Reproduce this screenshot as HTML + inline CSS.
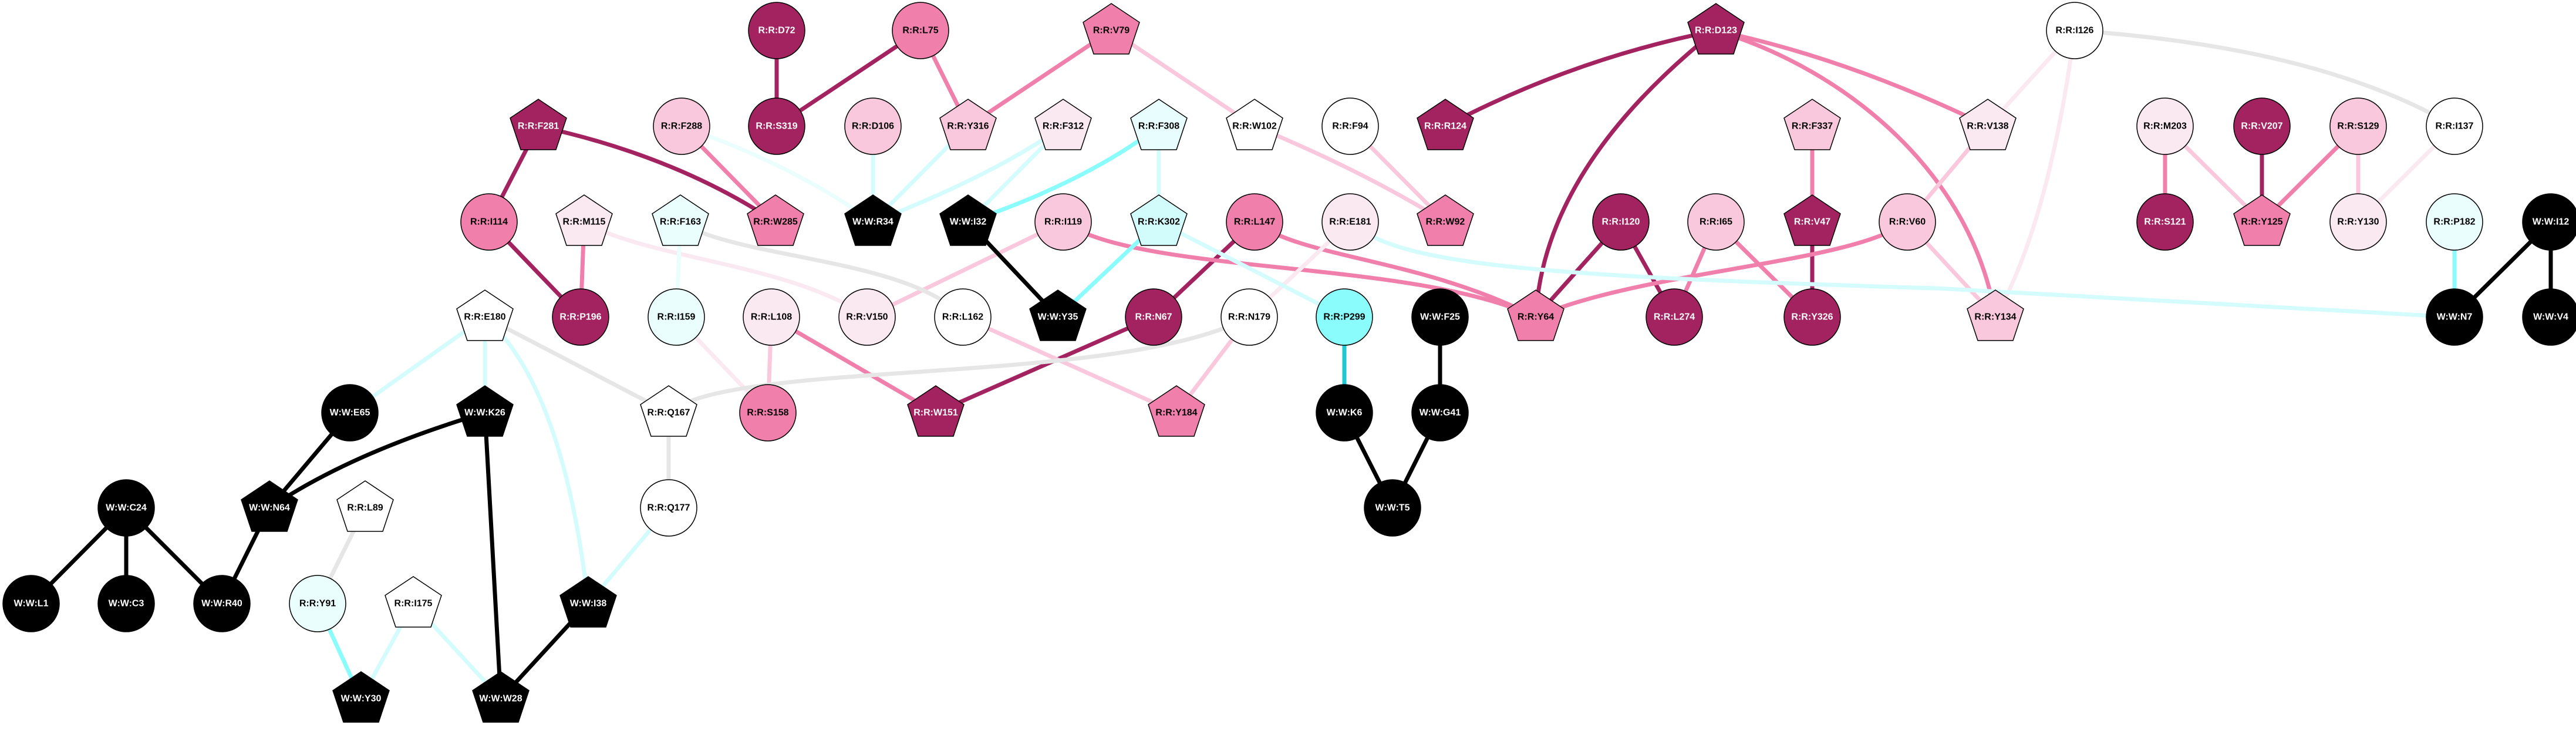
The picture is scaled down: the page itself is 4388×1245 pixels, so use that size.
<!DOCTYPE html>
<html><head><meta charset="utf-8"><style>
html,body{margin:0;padding:0;background:#fff}
svg{display:block}
text{font-family:"Liberation Sans",sans-serif;font-weight:bold;font-size:16px;text-anchor:middle;dominant-baseline:central}
.w{fill:#fff}.k{fill:#000}
</style></head><body>
<svg width="4388" height="1245" viewBox="0 0 4388 1245" xmlns="http://www.w3.org/2000/svg">
<defs><polygon id="p" points="0,-46 48,-14 30,40 -30,40 -48,-14"/></defs>
<rect width="4388" height="1245" fill="#fff"/>
<g fill="none" stroke-width="7" stroke-linecap="round">
<g stroke="#a22360">
<line x1="917" y1="215" x2="833" y2="378"/>
<path d="M917,215 Q1150,265 1321,378"/>
<line x1="833" y1="378" x2="989" y2="540"/>
<line x1="1323" y1="52" x2="1323" y2="215"/>
<line x1="1568" y1="52" x2="1323" y2="215"/>
<line x1="2137" y1="378" x2="1965" y2="540"/>
<line x1="1965" y1="540" x2="1594" y2="703" />
<path d="M2923,52 Q2680,100 2462,215"/>
<path d="M2923,52 Q2630,285 2616,540"/>
<line x1="2761" y1="378" x2="2616" y2="540"/>
<line x1="2761" y1="378" x2="2852" y2="540"/>
<line x1="3087" y1="378" x2="3087" y2="540"/>
<line x1="3853" y1="215" x2="3853" y2="378"/>
</g>
<g stroke="#f07fab">
<line x1="995" y1="378" x2="989" y2="540"/>
<line x1="1568" y1="52" x2="1649" y2="215"/>
<line x1="1893" y1="52" x2="1649" y2="215"/>
<line x1="1161" y1="215" x2="1321" y2="378"/>
<path d="M1811,378 C1950,470 2400,440 2616,540"/>
<path d="M2137,378 C2220,440 2420,440 2616,540"/>
<line x1="1314" y1="540" x2="1594" y2="703"/>
<path d="M2923,52 Q3150,100 3386,215"/>
<path d="M2923,52 C3150,120 3360,300 3399,540"/>
<line x1="2923" y1="378" x2="2852" y2="540"/>
<line x1="2923" y1="378" x2="3087" y2="540"/>
<line x1="3087" y1="215" x2="3087" y2="378"/>
<path d="M3249,378 C3150,450 2800,460 2616,540"/>
<line x1="3688" y1="215" x2="3688" y2="378"/>
<line x1="4017" y1="215" x2="3853" y2="378"/>
</g>
<g stroke="#f9c8dc">
<line x1="1893" y1="52" x2="2137" y2="215"/>
<path d="M2137,215 Q2320,290 2462,378"/>
<line x1="1811" y1="378" x2="1477" y2="540"/>
<line x1="1314" y1="540" x2="1308" y2="703"/>
<line x1="1640" y1="540" x2="2004" y2="703"/>
<line x1="2128" y1="540" x2="2004" y2="703"/>
<line x1="2300" y1="215" x2="2462" y2="378"/>
<line x1="3249" y1="378" x2="3386" y2="215"/>
<line x1="3249" y1="378" x2="3399" y2="540"/>
<line x1="3688" y1="215" x2="3853" y2="378"/>
<line x1="4017" y1="215" x2="4017" y2="378"/>
</g>
<g stroke="#fbe9f1">
<path d="M995,378 C1100,440 1350,450 1477,540"/>
<line x1="1152" y1="540" x2="1308" y2="703"/>
<line x1="2128" y1="540" x2="2300" y2="378"/>
<line x1="3534" y1="52" x2="3386" y2="215"/>
<path d="M3534,52 Q3490,380 3399,540"/>
<line x1="4181" y1="215" x2="4017" y2="378"/>
</g>
<g stroke="#e6e6e6">
<line x1="826" y1="540" x2="1139" y2="703"/>
<line x1="622" y1="865" x2="541" y2="1028"/>
<line x1="1139" y1="703" x2="1139" y2="865"/>
<path d="M1139,703 C1250,610 1900,660 2128,540"/>
<path d="M1159,378 C1250,440 1550,440 1640,540"/>
<path d="M3534,52 Q3950,80 4181,215"/>
</g>
<g stroke="#d4fcfc">
<line x1="826" y1="540" x2="596" y2="703"/>
<line x1="826" y1="540" x2="826" y2="703"/>
<path d="M826,540 Q960,660 1002,1028"/>
<line x1="704" y1="1028" x2="615" y2="1190"/>
<line x1="704" y1="1028" x2="853" y2="1190"/>
<line x1="1139" y1="865" x2="1002" y2="1028"/>
<line x1="1487" y1="215" x2="1487" y2="378"/>
<line x1="1649" y1="215" x2="1487" y2="378"/>
<path d="M1811,215 Q1690,300 1487,378"/>
<line x1="1811" y1="215" x2="1649" y2="378"/>
<line x1="1974" y1="215" x2="1974" y2="378"/>
<line x1="1974" y1="378" x2="2290" y2="540"/>
<path d="M2300,378 C2380,450 2600,470 3300,491 L4181,540"/>
</g>
<g stroke="#eafefe">
<path d="M1161,215 Q1350,280 1487,378"/>
<line x1="1159" y1="378" x2="1152" y2="540"/>
</g>
<g stroke="#8afcfc">
<line x1="541" y1="1028" x2="615" y2="1190"/>
<path d="M1974,215 Q1850,310 1649,378"/>
<line x1="1974" y1="378" x2="1802" y2="540"/>
<line x1="4181" y1="378" x2="4181" y2="540"/>
</g>
<line x1="2290" y1="540" x2="2290" y2="703" stroke="#1ec8d2"/>
<g stroke="#000">
<line x1="596" y1="703" x2="459" y2="865"/>
<path d="M826,703 Q600,770 459,865"/>
<line x1="826" y1="703" x2="853" y2="1190"/>
<line x1="215" y1="865" x2="53" y2="1028"/>
<line x1="215" y1="865" x2="215" y2="1028"/>
<line x1="215" y1="865" x2="378" y2="1028"/>
<line x1="459" y1="865" x2="378" y2="1028"/>
<line x1="1002" y1="1028" x2="853" y2="1190"/>
<line x1="1649" y1="378" x2="1802" y2="540"/>
<line x1="2453" y1="540" x2="2453" y2="703"/>
<line x1="2290" y1="703" x2="2372" y2="865"/>
<line x1="2453" y1="703" x2="2372" y2="865"/>
<line x1="4345" y1="378" x2="4181" y2="540"/>
<line x1="4345" y1="378" x2="4345" y2="540"/>
</g>
</g>

<g stroke="#000" stroke-width="1.5">
<g>
<ellipse cx="833" cy="378" rx="48" ry="48" fill="#f07fab"/>
<ellipse cx="989" cy="540" rx="48" ry="48" fill="#a22360"/>
<ellipse cx="596" cy="703" rx="48" ry="48" fill="#000"/>
<ellipse cx="215" cy="865" rx="48" ry="48" fill="#000"/>
<ellipse cx="53" cy="1028" rx="48" ry="48" fill="#000"/>
<ellipse cx="215" cy="1028" rx="48" ry="48" fill="#000"/>
<ellipse cx="378" cy="1028" rx="48" ry="48" fill="#000"/>
<ellipse cx="541" cy="1028" rx="48" ry="48" fill="#eafefe"/>
<ellipse cx="1323" cy="52" rx="48" ry="48" fill="#a22360"/>
<ellipse cx="1568" cy="52" rx="48" ry="48" fill="#f07fab"/>
<ellipse cx="1161" cy="215" rx="48" ry="48" fill="#f9c8dc"/>
<ellipse cx="1323" cy="215" rx="48" ry="48" fill="#a22360"/>
<ellipse cx="1487" cy="215" rx="48" ry="48" fill="#f9c8dc"/>
<ellipse cx="1811" cy="378" rx="48" ry="48" fill="#f9c8dc"/>
<ellipse cx="2137" cy="378" rx="48" ry="48" fill="#f07fab"/>
<ellipse cx="1152" cy="540" rx="48" ry="48" fill="#eafefe"/>
<ellipse cx="1314" cy="540" rx="48" ry="48" fill="#fbe9f1"/>
<ellipse cx="1477" cy="540" rx="48" ry="48" fill="#fbe9f1"/>
<ellipse cx="1640" cy="540" rx="48" ry="48" fill="#fff"/>
<ellipse cx="1965" cy="540" rx="48" ry="48" fill="#a22360"/>
<ellipse cx="2128" cy="540" rx="48" ry="48" fill="#fff"/>
<ellipse cx="1308" cy="703" rx="48" ry="48" fill="#f07fab"/>
<ellipse cx="1139" cy="865" rx="48" ry="48" fill="#fff"/>
<ellipse cx="2300" cy="215" rx="48" ry="48" fill="#fff"/>
<ellipse cx="2300" cy="378" rx="48" ry="48" fill="#fbe9f1"/>
<ellipse cx="2761" cy="378" rx="48" ry="48" fill="#a22360"/>
<ellipse cx="2923" cy="378" rx="48" ry="48" fill="#f9c8dc"/>
<ellipse cx="3249" cy="378" rx="48" ry="48" fill="#f9c8dc"/>
<ellipse cx="2290" cy="540" rx="48" ry="48" fill="#8afcfc"/>
<ellipse cx="2453" cy="540" rx="48" ry="48" fill="#000"/>
<ellipse cx="2852" cy="540" rx="48" ry="48" fill="#a22360"/>
<ellipse cx="3087" cy="540" rx="48" ry="48" fill="#a22360"/>
<ellipse cx="2290" cy="703" rx="48" ry="48" fill="#000"/>
<ellipse cx="2453" cy="703" rx="48" ry="48" fill="#000"/>
<ellipse cx="2372" cy="865" rx="48" ry="48" fill="#000"/>
<ellipse cx="3534" cy="52" rx="48" ry="48" fill="#fff"/>
<ellipse cx="3688" cy="215" rx="48" ry="48" fill="#fbe9f1"/>
<ellipse cx="3853" cy="215" rx="48" ry="48" fill="#a22360"/>
<ellipse cx="4017" cy="215" rx="48" ry="48" fill="#f9c8dc"/>
<ellipse cx="4181" cy="215" rx="48" ry="48" fill="#fff"/>
<ellipse cx="3688" cy="378" rx="48" ry="48" fill="#a22360"/>
<ellipse cx="4017" cy="378" rx="48" ry="48" fill="#fbe9f1"/>
<ellipse cx="4181" cy="378" rx="48" ry="48" fill="#eafefe"/>
<ellipse cx="4345" cy="378" rx="48" ry="48" fill="#000"/>
<ellipse cx="4181" cy="540" rx="48" ry="48" fill="#000"/>
<ellipse cx="4345" cy="540" rx="48" ry="48" fill="#000"/>
</g>
<use href="#p" x="917" y="215" fill="#a22360"/>
<use href="#p" x="995" y="378" fill="#fbe9f1"/>
<use href="#p" x="826" y="540" fill="#fff"/>
<use href="#p" x="826" y="703" fill="#000"/>
<use href="#p" x="459" y="865" fill="#000"/>
<use href="#p" x="622" y="865" fill="#fff"/>
<use href="#p" x="704" y="1028" fill="#fff"/>
<use href="#p" x="1002" y="1028" fill="#000"/>
<use href="#p" x="615" y="1190" fill="#000"/>
<use href="#p" x="853" y="1190" fill="#000"/>
<use href="#p" x="1893" y="52" fill="#f07fab"/>
<use href="#p" x="1649" y="215" fill="#f9c8dc"/>
<use href="#p" x="1811" y="215" fill="#fbe9f1"/>
<use href="#p" x="1974" y="215" fill="#e8fefe"/>
<use href="#p" x="2137" y="215" fill="#fff"/>
<use href="#p" x="1159" y="378" fill="#eafefe"/>
<use href="#p" x="1321" y="378" fill="#f07fab"/>
<use href="#p" x="1487" y="378" fill="#000"/>
<use href="#p" x="1649" y="378" fill="#000"/>
<use href="#p" x="1974" y="378" fill="#d2fcfc"/>
<use href="#p" x="1802" y="540" fill="#000"/>
<use href="#p" x="1139" y="703" fill="#fff"/>
<use href="#p" x="1594" y="703" fill="#a22360"/>
<use href="#p" x="2004" y="703" fill="#f07fab"/>
<use href="#p" x="2923" y="52" fill="#a22360"/>
<use href="#p" x="2462" y="215" fill="#a22360"/>
<use href="#p" x="3087" y="215" fill="#f9c8dc"/>
<use href="#p" x="2462" y="378" fill="#f07fab"/>
<use href="#p" x="3087" y="378" fill="#a22360"/>
<use href="#p" x="2616" y="540" fill="#f07fab"/>
<use href="#p" x="3386" y="215" fill="#fbe9f1"/>
<use href="#p" x="3853" y="378" fill="#f07fab"/>
<use href="#p" x="3399" y="540" fill="#f9c8dc"/>
</g>

<g>
<text x="917" y="215" class="w">R:R:F281</text>
<text x="833" y="378">R:R:I114</text>
<text x="995" y="378">R:R:M115</text>
<text x="989" y="540" class="w">R:R:P196</text>
<text x="826" y="540">R:R:E180</text>
<text x="596" y="703" class="w">W:W:E65</text>
<text x="826" y="703" class="w">W:W:K26</text>
<text x="215" y="865" class="w">W:W:C24</text>
<text x="459" y="865" class="w">W:W:N64</text>
<text x="622" y="865">R:R:L89</text>
<text x="53" y="1028" class="w">W:W:L1</text>
<text x="215" y="1028" class="w">W:W:C3</text>
<text x="378" y="1028" class="w">W:W:R40</text>
<text x="541" y="1028">R:R:Y91</text>
<text x="704" y="1028">R:R:I175</text>
<text x="1002" y="1028" class="w">W:W:I38</text>
<text x="615" y="1190" class="w">W:W:Y30</text>
<text x="853" y="1190" class="w">W:W:W28</text>
<text x="1323" y="52" class="w">R:R:D72</text>
<text x="1568" y="52">R:R:L75</text>
<text x="1893" y="52">R:R:V79</text>
<text x="1161" y="215">R:R:F288</text>
<text x="1323" y="215" class="w">R:R:S319</text>
<text x="1487" y="215">R:R:D106</text>
<text x="1649" y="215">R:R:Y316</text>
<text x="1811" y="215">R:R:F312</text>
<text x="1974" y="215">R:R:F308</text>
<text x="2137" y="215">R:R:W102</text>
<text x="1159" y="378">R:R:F163</text>
<text x="1321" y="378">R:R:W285</text>
<text x="1487" y="378" class="w">W:W:R34</text>
<text x="1649" y="378" class="w">W:W:I32</text>
<text x="1811" y="378">R:R:I119</text>
<text x="1974" y="378">R:R:K302</text>
<text x="2137" y="378">R:R:L147</text>
<text x="1152" y="540">R:R:I159</text>
<text x="1314" y="540">R:R:L108</text>
<text x="1477" y="540">R:R:V150</text>
<text x="1640" y="540">R:R:L162</text>
<text x="1802" y="540" class="w">W:W:Y35</text>
<text x="1965" y="540" class="w">R:R:N67</text>
<text x="2128" y="540">R:R:N179</text>
<text x="1139" y="703">R:R:Q167</text>
<text x="1308" y="703">R:R:S158</text>
<text x="1594" y="703" class="w">R:R:W151</text>
<text x="2004" y="703">R:R:Y184</text>
<text x="1139" y="865">R:R:Q177</text>
<text x="2923" y="52" class="w">R:R:D123</text>
<text x="2300" y="215">R:R:F94</text>
<text x="2462" y="215" class="w">R:R:R124</text>
<text x="3087" y="215">R:R:F337</text>
<text x="2300" y="378">R:R:E181</text>
<text x="2462" y="378">R:R:W92</text>
<text x="2761" y="378" class="w">R:R:I120</text>
<text x="2923" y="378">R:R:I65</text>
<text x="3087" y="378" class="w">R:R:V47</text>
<text x="3249" y="378">R:R:V60</text>
<text x="2290" y="540">R:R:P299</text>
<text x="2453" y="540" class="w">W:W:F25</text>
<text x="2616" y="540">R:R:Y64</text>
<text x="2852" y="540" class="w">R:R:L274</text>
<text x="3087" y="540" class="w">R:R:Y326</text>
<text x="2290" y="703" class="w">W:W:K6</text>
<text x="2453" y="703" class="w">W:W:G41</text>
<text x="2372" y="865" class="w">W:W:T5</text>
<text x="3534" y="52">R:R:I126</text>
<text x="3386" y="215">R:R:V138</text>
<text x="3688" y="215">R:R:M203</text>
<text x="3853" y="215" class="w">R:R:V207</text>
<text x="4017" y="215">R:R:S129</text>
<text x="4181" y="215">R:R:I137</text>
<text x="3688" y="378" class="w">R:R:S121</text>
<text x="3853" y="378">R:R:Y125</text>
<text x="4017" y="378">R:R:Y130</text>
<text x="4181" y="378">R:R:P182</text>
<text x="4345" y="378" class="w">W:W:I12</text>
<text x="3399" y="540">R:R:Y134</text>
<text x="4181" y="540" class="w">W:W:N7</text>
<text x="4345" y="540" class="w">W:W:V4</text>
</g>
</svg>
</body></html>
